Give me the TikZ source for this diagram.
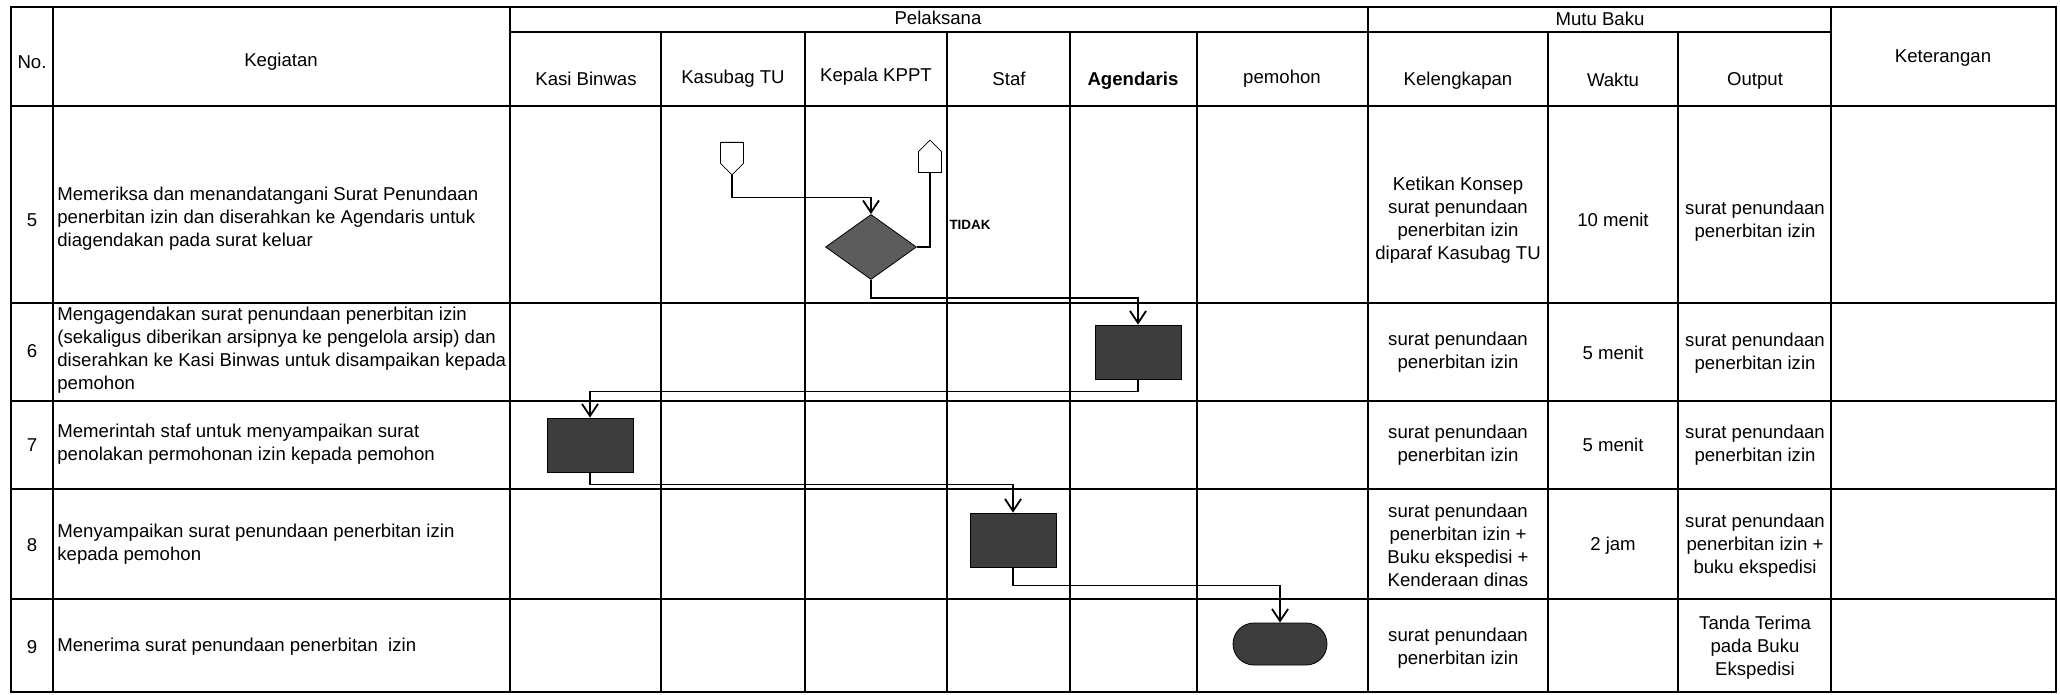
\documentclass[tikz,border=0pt]{standalone}
\usepackage{fontspec}
\setmainfont{Liberation Sans}
\usetikzlibrary{shapes}
\usetikzlibrary{arrows.meta}

\definecolor{procgray}{gray}{0.24}
\definecolor{decgray}{gray}{0.36}

\begin{document}
\begin{tikzpicture}[x=0.5pt,y=-0.5pt,
    grid/.style={line width=0.9pt},
    txt/.style={font=\fontsize{9.3}{11.5}\selectfont,inner sep=0pt,align=center},
    keg/.style={txt,anchor=west,align=left},
    proc/.style={draw,fill=procgray,minimum width=43pt,minimum height=27pt,inner sep=0pt},
    dec/.style={diamond,draw,fill=decgray,minimum width=45.5pt,minimum height=32.5pt,inner sep=0pt},
    trm/.style={rounded rectangle,draw,fill=procgray,minimum width=47pt,minimum height=21pt,inner sep=0pt},
    offpage/.style={signal,draw,fill=white,minimum width=11.5pt,minimum height=10.5pt,inner sep=0pt},
    flow/.style={line width=0.9pt,-{Straight Barb[length=6pt,width=8pt]}},
    link/.style={line width=0.9pt}
  ]
  \useasboundingbox (0,0) rectangle (2060,695);

  % table grid
  \draw[line width=1.2pt] (11,7) rectangle (2056,692);
  \foreach \y in {106,303,401,489,599} \draw[grid] (11,\y) -- (2056,\y);
  \draw[grid] (510,32) -- (1831,32);
  \foreach \x in {53,510,1368,1831} \draw[grid] (\x,7) -- (\x,692);
  \foreach \x in {661,805,947,1070,1197,1548,1678} \draw[grid] (\x,32) -- (\x,692);

  % header
  \node[txt] (hno)  at (32,62)   {No.};
  \node[txt] (hkeg) at (281,62)  {Kegiatan};
  \node[txt] (hpel) at (938,18)  {Pelaksana};
  \node[txt] (hmut) at (1600,19) {Mutu Baku};
  \node[txt] (hket) at (1943,58) {Keterangan};
  \node[txt] (hkasi) at (586,79)  {Kasi Binwas};
  \node[txt] (hkasu) at (733,79)  {Kasubag TU};
  \node[txt] (hkep)  at (876,77)  {Kepala KPPT};
  \node[txt] (hstaf) at (1009,79) {Staf};
  \node[txt,font=\fontsize{9.3}{11.5}\selectfont\bfseries] (hage) at (1133,81) {Agendaris};
  \node[txt] (hpem)  at (1282,79) {pemohon};
  \node[txt] (hkel)  at (1458,81) {Kelengkapan};
  \node[txt] (hwak)  at (1613,80) {Waktu};
  \node[txt] (hout)  at (1755,81) {Output};

  % rows
  \node[txt] (n5) at (32,220) {5};
  \node[txt] (n6) at (32,351) {6};
  \node[txt] (n7) at (32,445) {7};
  \node[txt] (n8) at (32,545) {8};
  \node[txt] (n9) at (32,647) {9};

  \node[keg] (k5) at (57,219) {Memeriksa dan menandatangani Surat Penundaan\\penerbitan izin dan diserahkan ke Agendaris untuk\\diagendakan pada surat keluar};
  \node[keg] (k6) at (57,350) {Mengagendakan surat penundaan penerbitan izin\\(sekaligus diberikan arsipnya ke pengelola arsip) dan\\diserahkan ke Kasi Binwas untuk disampaikan kepada\\pemohon};
  \node[keg] (k7) at (57,444) {Memerintah staf untuk menyampaikan surat\\penolakan permohonan izin kepada pemohon};
  \node[keg] (k8) at (57,544) {Menyampaikan surat penundaan penerbitan izin\\kepada pemohon};
  \node[keg] (k9) at (57,647) {Menerima surat penundaan penerbitan\ \ izin};

  \node[txt] (kel5) at (1458,220) {Ketikan Konsep\\surat penundaan\\penerbitan izin\\diparaf Kasubag TU};
  \node[txt] (kel6) at (1458,352) {surat penundaan\\penerbitan izin};
  \node[txt] (kel7) at (1458,445) {surat penundaan\\penerbitan izin};
  \node[txt] (kel8) at (1458,545) {surat penundaan\\penerbitan izin +\\Buku ekspedisi +\\Kenderaan dinas};
  \node[txt] (kel9) at (1458,648) {surat penundaan\\penerbitan izin};

  \node[txt] (w5) at (1613,220) {10 menit};
  \node[txt] (w6) at (1613,353) {5 menit};
  \node[txt] (w7) at (1613,445) {5 menit};
  \node[txt] (w8) at (1613,546) {2 jam};

  \node[txt] (o5) at (1755,221) {surat penundaan\\penerbitan izin};
  \node[txt] (o6) at (1755,353) {surat penundaan\\penerbitan izin};
  \node[txt] (o7) at (1755,445) {surat penundaan\\penerbitan izin};
  \node[txt] (o8) at (1755,546) {surat penundaan\\penerbitan izin +\\buku ekspedisi};
  \node[txt] (o9) at (1755,648) {Tanda Terima\\pada Buku\\Ekspedisi};

  % flow
  \node[offpage,signal to=south,anchor=north] (offin) at (732,142) {};
  \node[offpage,signal to=north,anchor=south] (offout) at (930,173) {};
  \node[dec] (cek) at (871,247) {};
  \node[font=\fontsize{6.7}{8}\selectfont\bfseries,inner sep=0pt] (tidak) at (970,225) {TIDAK};
  \node[proc] (p6) at (1138,352) {};
  \node[proc] (p7) at (590,445) {};
  \node[proc] (p8) at (1013,540) {};
  \node[trm] (selesai) at (1280,644) {};

  \draw[flow] (offin.south) -- ++(0,22) -| (cek.north);
  \draw[link] (cek.east) -| (offout.south);
  \draw[flow] (cek.south) -- ++(0,18) -| (p6.north);
  \draw[flow] (p6.south) -- ++(0,12) -| (p7.north);
  \draw[flow] (p7.south) -- ++(0,12) -| (p8.north);
  \draw[flow] (p8.south) -- ++(0,18) -| (selesai.north);
\end{tikzpicture}
\end{document}
